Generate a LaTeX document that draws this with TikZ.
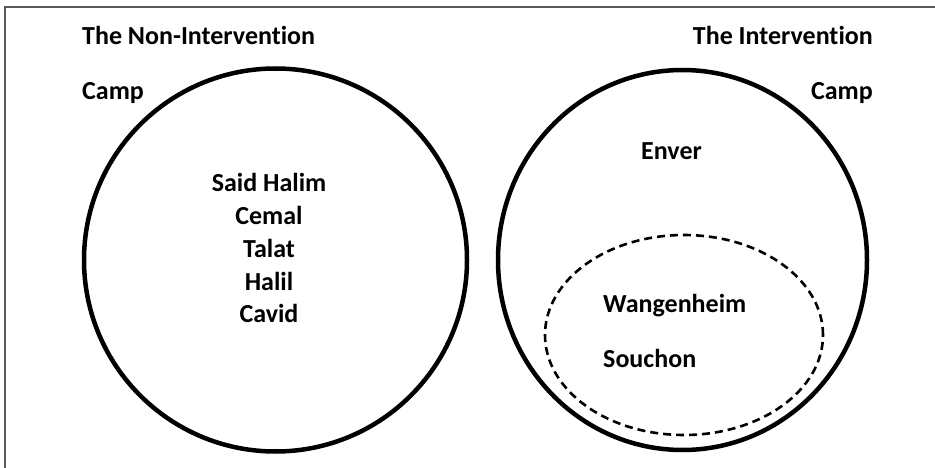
\documentclass[tikz,border=0pt]{standalone}
\usepackage{fontspec}
\setmainfont[Ligatures=NoCommon]{Carlito}
\usetikzlibrary{shapes.geometric}
\begin{document}
\begin{tikzpicture}[x=1pt,y=-1pt,
  lbl/.style={font=\bfseries\fontsize{26}{30}\selectfont, inner sep=0pt},
  camp/.style={line width=4.5pt, draw=black},
  inner/.style={line width=2.6pt, draw=black, dash pattern=on 8pt off 5pt}]
\useasboundingbox (0,0) rectangle (935,468);
\fill[white] (0,0) rectangle (935,468);
\draw[line width=1.2pt, draw=black!65] (5,468) -- (5,7) -- (935,7);
% circles
\node[camp, circle, minimum size=383pt, inner sep=0pt] (non) at (275.5,260) {};
\node[camp, ellipse, minimum width=369pt, minimum height=380pt, inner sep=0pt] (int) at (682.5,260) {};
\node[inner, ellipse, minimum width=278pt, minimum height=200pt, inner sep=0pt] (ger) at (684,335) {};
% titles
\node[lbl, anchor=base west] (t1) at (82,45) {The Non-Intervention};
\node[lbl, anchor=base west] (t1b) at (82,100) {Camp};
\node[lbl, anchor=base east] (t2) at (873,45) {The Intervention};
\node[lbl, anchor=base east] (t2b) at (873,100) {Camp};
% members
\node[lbl, anchor=base] (n1) at (269,192) {Said Halim};
\node[lbl, anchor=base] (n2) at (269,224) {Cemal};
\node[lbl, anchor=base] (n3) at (269,257) {Talat};
\node[lbl, anchor=base] (n4) at (269,290) {Halil};
\node[lbl, anchor=base] (n5) at (269,322) {Cavid};
\node[lbl, anchor=base west] (e1) at (641,160) {Enver};
\node[lbl, anchor=base west] (g1) at (603,312) {Wangenheim};
\node[lbl, anchor=base west] (g2) at (603,367) {Souchon};
\end{tikzpicture}
\end{document}
